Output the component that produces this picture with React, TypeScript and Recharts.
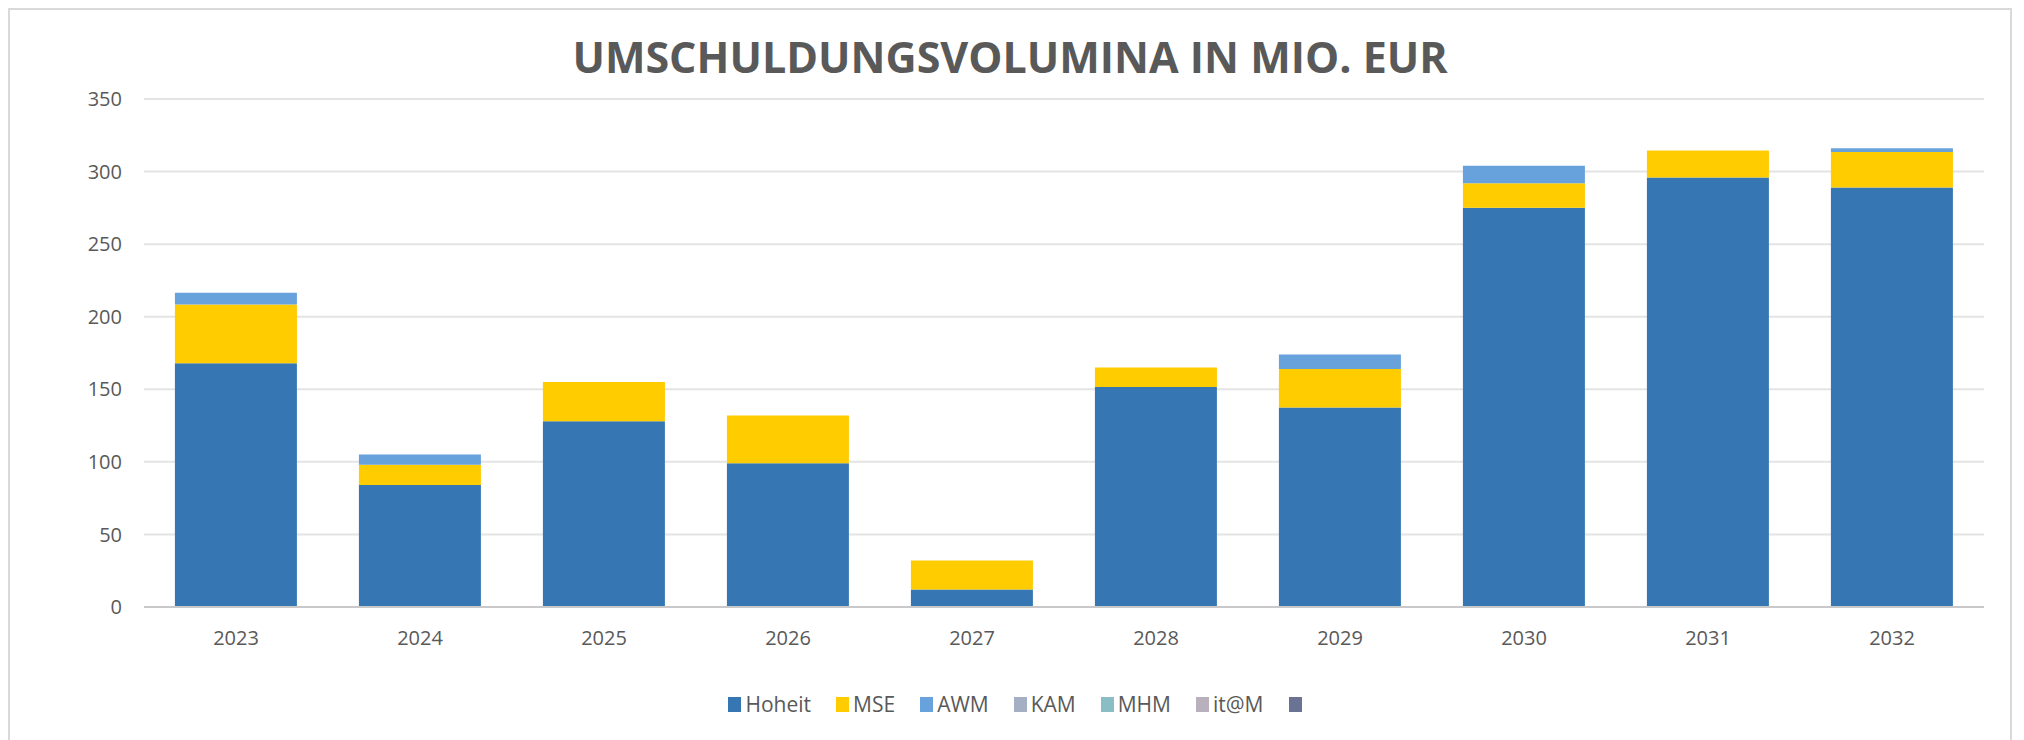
import { BarChart, Bar, XAxis, YAxis, CartesianGrid, Legend } from 'recharts'

const years = ['2023', '2024', '2025', '2026', '2027', '2028', '2029', '2030', '2031', '2032']
const hoheit = [168, 84, 128, 99, 12, 151.5, 137.5, 275, 296, 289]
const mse = [40.5, 14, 27, 33, 20, 13.5, 26.5, 17, 18.5, 24.5]
const awm = [8, 7, 0, 0, 0, 0, 10, 12, 0, 2.5]
const kam = [0, 0, 0, 0, 0, 0, 0, 0, 0, 0]
const mhm = [0, 0, 0, 0, 0, 0, 0, 0, 0, 0]
const itm = [0, 0, 0, 0, 0, 0, 0, 0, 0, 0]
const blank = [0, 0, 0, 0, 0, 0, 0, 0, 0, 0]
const yTicks = [0, 50, 100, 150, 200, 250, 300, 350]

const series = [
  { key: 'hoheit', name: 'Hoheit', color: '#3677b3' },
  { key: 'mse', name: 'MSE', color: '#ffcc00' },
  { key: 'awm', name: 'AWM', color: '#67a2dd' },
  { key: 'kam', name: 'KAM', color: '#a5afc4' },
  { key: 'mhm', name: 'MHM', color: '#8bbdc4' },
  { key: 'itm', name: 'it@M', color: '#b9b0bd' },
  { key: 'blank', name: '', color: '#6b7395' },
]

const data = years.map((year, i) => ({
  year,
  hoheit: hoheit[i],
  mse: mse[i],
  awm: awm[i],
  kam: kam[i],
  mhm: mhm[i],
  itm: itm[i],
  blank: blank[i],
}))

const font = '"Open Sans", sans-serif'

function LegendRow() {
  return (
    <div style={{ display: 'flex', justifyContent: 'center', alignItems: 'center', fontSize: 21, fontFamily: font, color: '#595959', paddingLeft: 40 }}>
      {series.map((s) => (
        <div key={s.key} style={{ display: 'flex', alignItems: 'center', marginRight: s.name ? 25 : 0 }}>
          <span style={{ display: 'inline-block', width: 13, height: 15, background: s.color, marginRight: 4 }} />
          <span>{s.name}</span>
        </div>
      ))}
    </div>
  )
}

export default function App() {
  return (
    <div
      style={{
        position: 'relative',
        width: 2004,
        height: 740,
        border: '2px solid #d9d9d9',
        boxSizing: 'border-box',
        background: '#fff',
        fontFamily: font,
      }}
    >
      <div
        style={{
          position: 'absolute',
          top: 17,
          left: 0,
          width: 2000,
          textAlign: 'center',
          fontSize: 43,
          fontWeight: 700,
          color: '#595959',
        }}
      >
        UMSCHULDUNGSVOLUMINA IN MIO. EUR
      </div>
      <BarChart
        width={2000}
        height={728}
        data={data}
        margin={{ top: 89, right: 26, bottom: 61, left: 0 }}
        barCategoryGap="16.8%"
      >
        <CartesianGrid vertical={false} stroke="#e4e4e4" strokeWidth={2} />
        <XAxis
          dataKey="year"
          height={40}
          tickSize={0}
          tickMargin={24}
          axisLine={{ stroke: '#c9c9c9', strokeWidth: 2 }}
          tick={{ fill: '#595959', fontSize: 20, fontFamily: font }}
        />
        <YAxis
          width={134}
          domain={[0, 350]}
          ticks={yTicks}
          tickSize={0}
          tickMargin={22}
          axisLine={false}
          tick={{ fill: '#595959', fontSize: 20, fontFamily: font }}
        />
        <Legend
          verticalAlign="bottom"
          height={30}
          wrapperStyle={{ bottom: 18 }}
          content={() => <LegendRow />}
        />
        {series.map((s) => (
          <Bar
            key={s.key}
            dataKey={s.key}
            name={s.name || ' '}
            stackId="a"
            fill={s.color}
            isAnimationActive={false}
          />
        ))}
      </BarChart>
    </div>
  )
}
